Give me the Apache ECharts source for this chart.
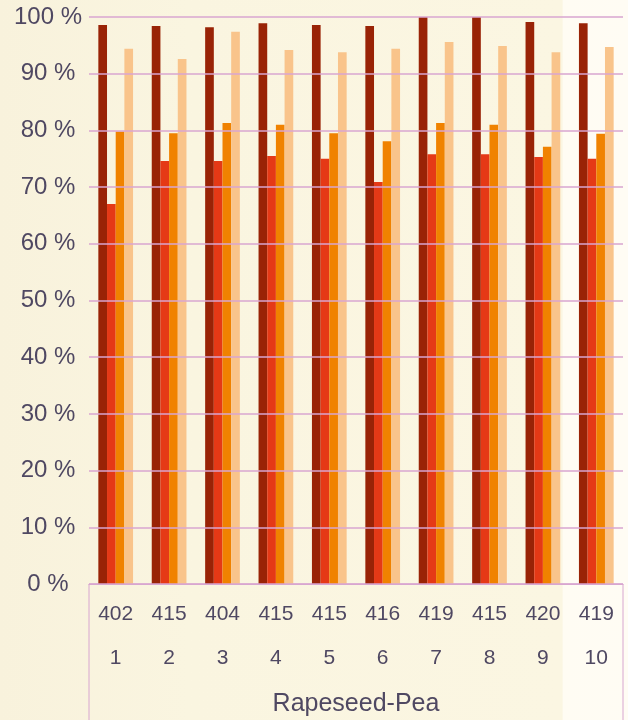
<!DOCTYPE html>
<html>
<head>
<meta charset="utf-8">
<script src="https://cdn.jsdelivr.net/npm/echarts@6/dist/echarts.min.js"></script>
<style>
  html, body { margin: 0; padding: 0; }
  #chart { width: 628px; height: 720px; }
</style>
</head>
<body>
<div id="chart"></div>
<script>
// categories (trial number) and sample counts shown under them
const categories = ['1', '2', '3', '4', '5', '6', '7', '8', '9', '10'];
const counts = [402, 415, 404, 415, 415, 416, 419, 415, 420, 419];

// four series (%)
const seriesA = [98.6, 98.4, 98.2, 98.9, 98.6, 98.4, 100, 100, 99.1, 98.9];
const seriesB = [67.0, 74.6, 74.6, 75.5, 75.0, 70.9, 75.8, 75.8, 75.3, 75.0];
const seriesC = [79.8, 79.5, 81.3, 81.0, 79.5, 78.1, 81.3, 81.0, 77.1, 79.4];
const seriesD = [94.4, 92.6, 97.4, 94.2, 93.8, 94.4, 95.6, 94.9, 93.8, 94.7];

const yTicks = [0, 10, 20, 30, 40, 50, 60, 70, 80, 90, 100];

const colors = ['#992306', '#e53916', '#f08200', '#f9c48b'];
const textColor = '#4f4862';
const lineColor = '#d8a6d0';
const font = 'Liberation Sans';

const chart = echarts.init(document.getElementById('chart'));

function bar(data, color) {
  return {
    type: 'bar',
    data: data,
    barGap: '0%',
    barCategoryGap: '35%',
    itemStyle: { color: color },
    silent: true
  };
}

const option = {
  animation: false,
  backgroundColor: new echarts.graphic.LinearGradient(0, 0, 1, 0, [
    { offset: 0, color: '#f8f2dc' },
    { offset: 0.3, color: '#faf5e0' },
    { offset: 0.895, color: '#fbf6e2' },
    { offset: 0.897, color: '#fffcf3' },
    { offset: 1, color: '#fffcf4' }
  ]),
  grid: [
    { left: 89, right: 5, top: 17, bottom: 136, outerBoundsMode: 'none', containLabel: false },
    // box around the category labels
    { left: 89, right: 5, top: 584, bottom: -20, outerBoundsMode: 'none', containLabel: false,
      show: true, borderColor: lineColor, borderWidth: 1, backgroundColor: 'transparent' }
  ],
  xAxis: [
    {
      type: 'category',
      data: categories,
      axisLine: { show: true, lineStyle: { color: lineColor, width: 1 } },
      axisTick: { show: false },
      axisLabel: {
        interval: 0,
        margin: 8,
        color: textColor,
        fontFamily: font,
        fontSize: 21,
        lineHeight: 44,
        formatter: (v, i) => counts[i] + '\n' + v
      },
      name: 'Rapeseed-Pea',
      nameLocation: 'middle',
      nameGap: 108,
      nameTextStyle: { color: textColor, fontFamily: font, fontSize: 25 }
    },
    { type: 'category', gridIndex: 1, data: [''], show: false }
  ],
  yAxis: [
    {
      type: 'value',
      min: yTicks[0],
      max: yTicks[yTicks.length - 1],
      interval: 10,
      z: 5,
      axisLine: { show: false },
      axisTick: { show: false },
      axisLabel: {
        align: 'center',
        margin: 41,
        color: textColor,
        fontFamily: font,
        fontSize: 24,
        formatter: '{value} %'
      },
      splitLine: { show: true, lineStyle: { color: lineColor, width: 1.5 } }
    },
    { type: 'value', gridIndex: 1, show: false }
  ],
  series: [
    bar(seriesA, colors[0]),
    bar(seriesB, colors[1]),
    bar(seriesC, colors[2]),
    bar(seriesD, colors[3])
  ]
};

chart.setOption(option);
</script>
</body>
</html>
